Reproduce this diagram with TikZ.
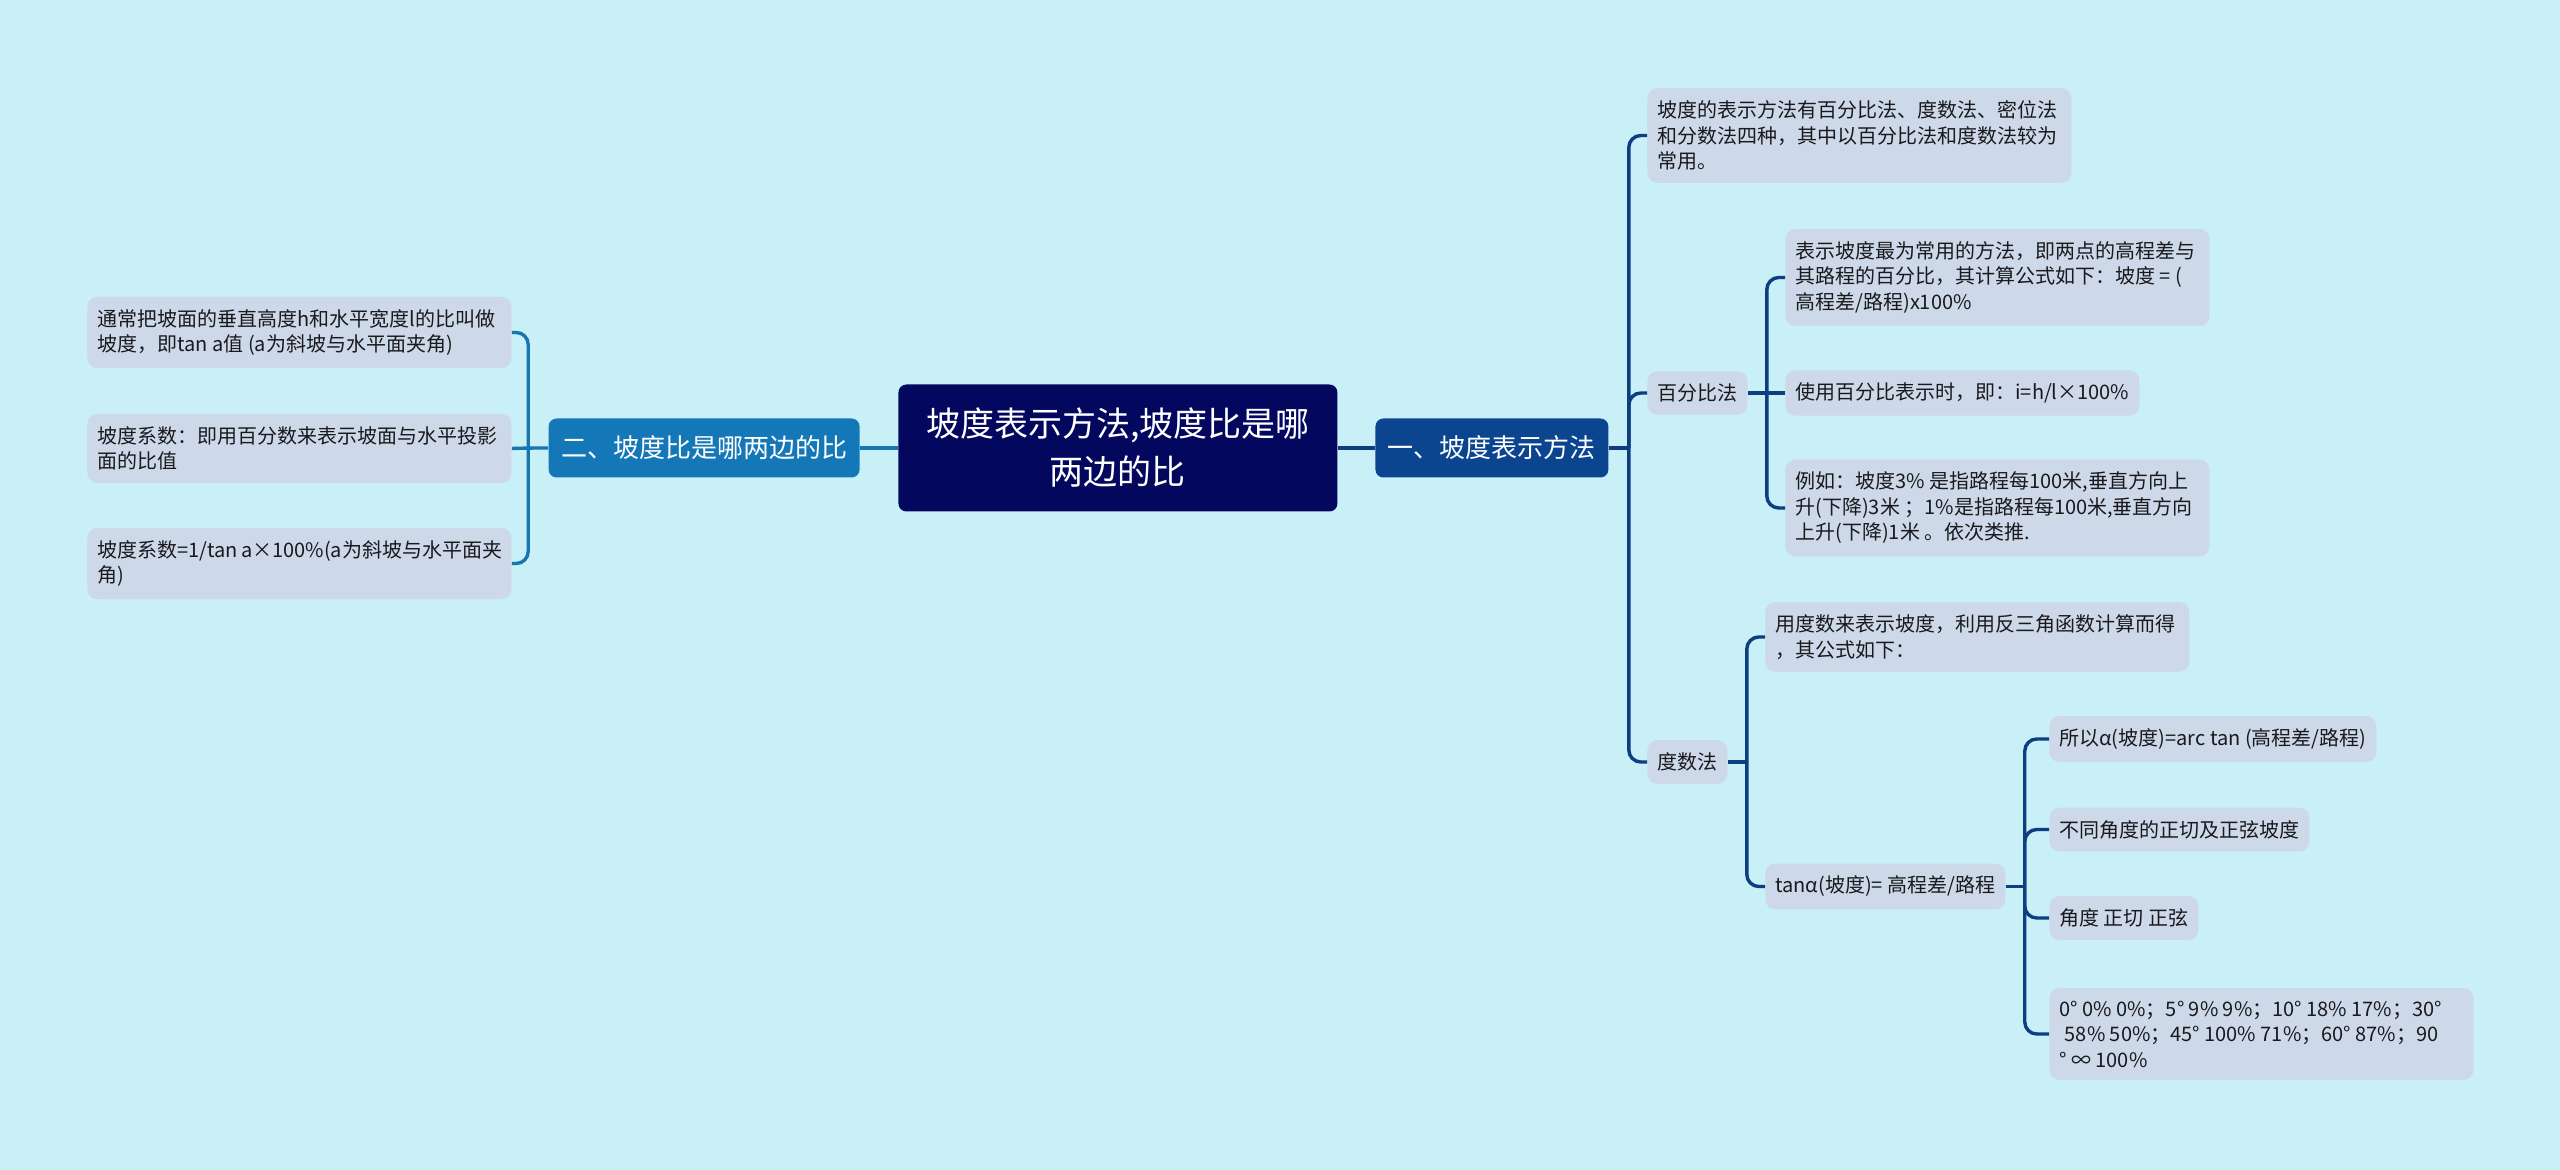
\documentclass[tikz,border=0pt]{standalone}
\usepackage{fontspec}
\setmainfont{Noto Sans CJK SC}

\definecolor{bgcyan}{RGB}{201,239,247}
\definecolor{leafgray}{RGB}{205,217,232}
\definecolor{leaftext}{RGB}{25,25,30}
\definecolor{rootblue}{RGB}{3,8,94}
\definecolor{rightblue}{RGB}{11,69,143}
\definecolor{leftblue}{RGB}{20,120,184}
\definecolor{rightline}{RGB}{14,62,130}
\definecolor{leftline}{RGB}{22,118,178}

\newcommand{\leaffont}{\fontsize{10}{12.75}\selectfont}
\newcommand{\topicfont}{\fontsize{13}{16}\selectfont}
\newcommand{\rootfont}{\fontsize{17}{24}\selectfont}

\begin{document}
\begin{tikzpicture}[x=0.5pt, y=-0.5pt,
  leaf/.style={anchor=west, fill=leafgray, text=leaftext, rounded corners=5pt,
    inner xsep=5pt, inner ysep=6.25pt, font=\leaffont},
  wideleaf/.style={leaf, align=flush left, text width=202pt},
  topic/.style={fill=#1, text=white, rounded corners=4pt, inner xsep=6.25pt,
    minimum height=29.5pt, font=\topicfont},
  branch/.style={draw=#1, line width=1.7pt, rounded corners=6pt}]

% Background
\fill[bgcyan] (0,0) rectangle (2560,1170);

% Central topic
\node[fill=rootblue, text=white, rounded corners=4pt, align=center, anchor=west,
  minimum width=219.5pt, minimum height=63.5pt, font=\rootfont] (root) at (898,448)
  {坡度表示方法,坡度比是哪\\两边的比};

% Main branches
\node[topic=rightblue, anchor=west] (fangfa) at (1375,448) {一、坡度表示方法};
\node[topic=leftblue, anchor=east] (bizhi) at (860,448) {二、坡度比是哪两边的比};

% Left side
\node[wideleaf] (bz1) at (87,332.5) {通常把坡面的垂直高度h和水平宽度l的比叫做\\坡度，即tan a值 (a为斜坡与水平面夹角)};
\node[wideleaf] (bz2) at (87,448.5) {坡度系数：即用百分数来表示坡面与水平投影\\面的比值};
\node[wideleaf] (bz3) at (87,563.5) {坡度系数=1/tan~a×100\%(a为斜坡与水平面夹\\角)};

% Right side, first level
\node[wideleaf] (ff1) at (1647,135.5) {坡度的表示方法有百分比法、度数法、密位法\\和分数法四种，其中以百分比法和度数法较为\\常用。};
\node[leaf] (pct) at (1647,393) {百分比法};
\node[leaf] (deg) at (1647,762) {度数法};

% 百分比法
\node[wideleaf] (pct1) at (1785,277.5) {表示坡度最为常用的方法，即两点的高程差与\\其路程的百分比，其计算公式如下：坡度 = (\\高程差/路程)x100\%};
\node[leaf] (pct2) at (1785,393) {使用百分比表示时，即：i=h/l×100\%};
\node[wideleaf] (pct3) at (1785,508) {例如：坡度3\% 是指路程每100米,垂直方向上\\升(下降)3米 ；1\%是指路程每100米,垂直方向\\上升(下降)1米 。依次类推.};

% 度数法
\node[wideleaf] (deg1) at (1765,637) {用度数来表示坡度，利用反三角函数计算而得\\，其公式如下：};
\node[leaf] (deg2) at (1765,886.5) {tanα(坡度)= 高程差/路程};

\node[leaf] (tan1) at (2049,739) {所以α(坡度)=arc tan (高程差/路程)};
\node[leaf] (tan2) at (2049,829.5) {不同角度的正切及正弦坡度};
\node[leaf] (tan3) at (2049,918) {角度 正切 正弦};
\node[wideleaf] (tan4) at (2049,1034) {0° 0\% 0\%；5° 9\% 9\%；10° 18\% 17\%；30°\\\hspace*{0.27em}58\% 50\%；45° 100\% 71\%；60° 87\%；90\\° ∞ 100\%};

% Joints
\coordinate (lj) at ([xshift=-10pt]bizhi.west);
\coordinate (rj) at ([xshift=10pt]fangfa.east);
\coordinate (pj) at ([xshift=9.5pt]pct.east);
\coordinate (dj) at ([xshift=9.5pt]deg.east);
\coordinate (tj) at ([xshift=9.5pt]deg2.east);

% Connectors
\draw[branch=leftline] (root.west) -- (bizhi.east);
\draw[branch=rightline] (root.east) -- (fangfa.west);

\draw[branch=leftline] (bizhi.west) -- (lj) -- (bz2.east);
\foreach \n in {bz1,bz3}
  \draw[branch=leftline] (lj) |- (\n.east);

\draw[branch=rightline] (fangfa.east) -- (rj);
\foreach \n in {ff1,pct,deg}
  \draw[branch=rightline] (rj) |- (\n.west);

\draw[branch=rightline] (pct.east) -- (pj) -- (pct2.west);
\foreach \n in {pct1,pct3}
  \draw[branch=rightline] (pj) |- (\n.west);

\draw[branch=rightline] (deg.east) -- (dj);
\foreach \n in {deg1,deg2}
  \draw[branch=rightline] (dj) |- (\n.west);

\draw[branch=rightline] (deg2.east) -- (tj);
\foreach \n in {tan1,tan2,tan3,tan4}
  \draw[branch=rightline] (tj) |- (\n.west);

\end{tikzpicture}
\end{document}
